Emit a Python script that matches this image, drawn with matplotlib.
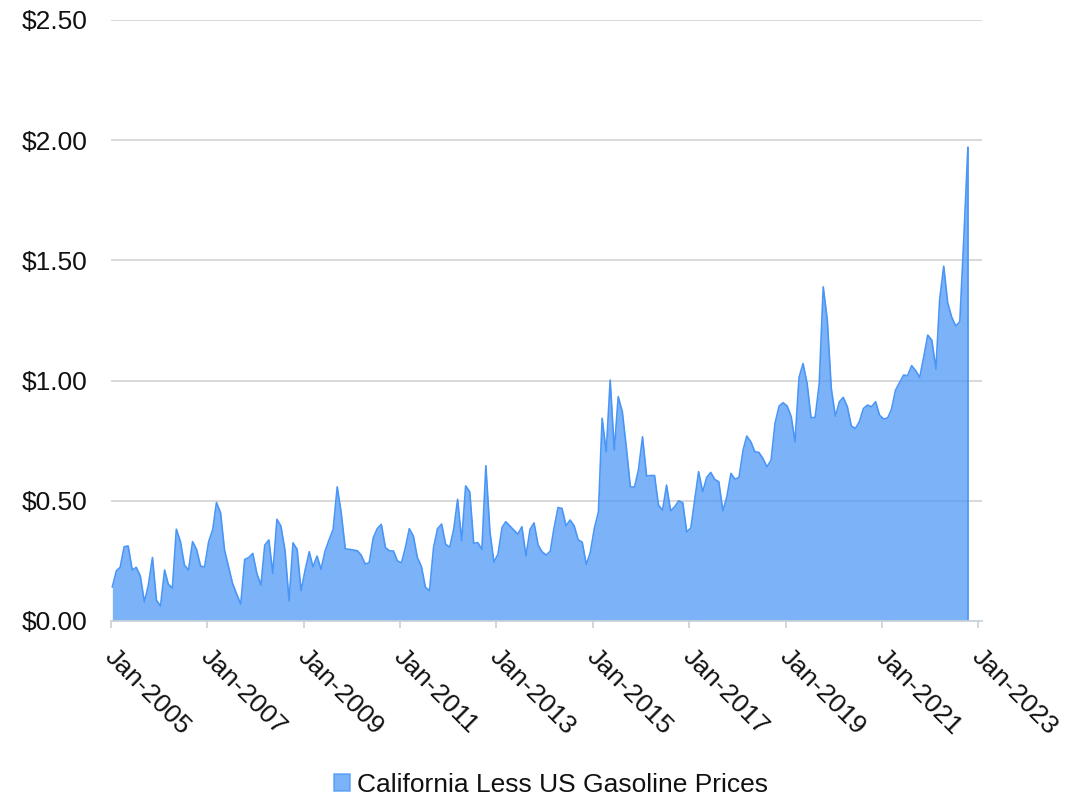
import numpy as np
import pandas as pd
import matplotlib as mpl
mpl.use("Agg")
from matplotlib import pyplot as plt
import matplotlib.dates as mdates
import matplotlib.transforms as mtransforms
from matplotlib.patches import Patch
from matplotlib.ticker import FuncFormatter

plt.rcParams["font.family"] = ["Liberation Sans", "DejaVu Sans"]

series_name = "California Less US Gasoline Prices"

# monthly price gap, $/gallon (Jan 2005 .. Oct 2022)
y2005 = [0.142, 0.209, 0.223, 0.309, 0.312, 0.212, 0.223, 0.187, 0.079, 0.149, 0.264, 0.087]
y2006 = [0.062, 0.212, 0.153, 0.137, 0.382, 0.330, 0.233, 0.212, 0.330, 0.298, 0.228, 0.225]
y2007 = [0.330, 0.381, 0.493, 0.450, 0.295, 0.225, 0.156, 0.112, 0.070, 0.256, 0.264, 0.281]
y2008 = [0.198, 0.149, 0.316, 0.337, 0.198, 0.423, 0.395, 0.295, 0.084, 0.325, 0.298, 0.126]
y2009 = [0.212, 0.288, 0.225, 0.270, 0.215, 0.291, 0.337, 0.381, 0.558, 0.450, 0.300, 0.298]
y2010 = [0.295, 0.292, 0.274, 0.237, 0.242, 0.346, 0.384, 0.402, 0.306, 0.292, 0.291, 0.250]
y2011 = [0.242, 0.309, 0.384, 0.353, 0.264, 0.226, 0.140, 0.126, 0.306, 0.384, 0.403, 0.320]
y2012 = [0.306, 0.383, 0.506, 0.334, 0.562, 0.537, 0.323, 0.326, 0.298, 0.646, 0.371, 0.245]
y2013 = [0.278, 0.389, 0.413, 0.395, 0.378, 0.361, 0.392, 0.270, 0.381, 0.408, 0.316, 0.288]
y2014 = [0.274, 0.290, 0.385, 0.472, 0.468, 0.396, 0.420, 0.396, 0.337, 0.328, 0.235, 0.284]
y2015 = [0.385, 0.454, 0.843, 0.704, 1.002, 0.711, 0.933, 0.870, 0.718, 0.558, 0.557, 0.628]
y2016 = [0.766, 0.603, 0.605, 0.605, 0.482, 0.461, 0.565, 0.458, 0.475, 0.500, 0.492, 0.370]
y2017 = [0.387, 0.510, 0.621, 0.537, 0.597, 0.618, 0.589, 0.579, 0.458, 0.517, 0.614, 0.590]
y2018 = [0.597, 0.711, 0.769, 0.745, 0.704, 0.701, 0.676, 0.641, 0.669, 0.822, 0.894, 0.908]
y2019 = [0.894, 0.849, 0.745, 1.013, 1.071, 0.988, 0.845, 0.847, 0.988, 1.390, 1.252, 0.968]
y2020 = [0.852, 0.912, 0.930, 0.891, 0.811, 0.801, 0.829, 0.884, 0.898, 0.891, 0.912, 0.856]
y2021 = [0.840, 0.845, 0.880, 0.960, 0.991, 1.023, 1.020, 1.062, 1.041, 1.013, 1.099, 1.189]
y2022 = [1.168, 1.048, 1.335, 1.476, 1.324, 1.263, 1.227, 1.245, 1.600, 1.970]

values = np.array(y2005 + y2006 + y2007 + y2008 + y2009 + y2010 + y2011 + y2012 + y2013
                  + y2014 + y2015 + y2016 + y2017 + y2018 + y2019 + y2020 + y2021 + y2022)
dates = pd.date_range("2005-01-01", periods=len(values), freq="MS") + pd.Timedelta(days=12)

tick_years = list(range(2005, 2024, 2))
y_ticks = [0, 0.5, 1.0, 1.5, 2.0, 2.5]

line_col = "#4a96f6"
grid_col = "#d6d6d6"
text_col = "#111111"
fs = 19

fig = plt.figure(figsize=(10.89, 7.99), dpi=100)
ax = fig.add_axes([0.1017, 0.2228, 0.7998, 0.7522])

ax.fill_between(dates, values, 0, color=line_col, alpha=0.72, linewidth=0, zorder=2)
ax.plot(dates, values, color=line_col, linewidth=1.2, zorder=3)
ax.vlines(dates[-1], 0, values[-1], color=line_col, linewidth=1.2, zorder=3)

ax.set_ylim(0, 2.5)
ax.set_yticks(y_ticks)
ax.yaxis.set_major_formatter(FuncFormatter(lambda v, p: "${:.2f}".format(v)))
ax.set_xlim(pd.Timestamp("2005-01-01"), pd.Timestamp("2023-01-26"))
ax.set_xticks(pd.to_datetime(["%d-01-01" % y for y in tick_years]))
ax.xaxis.set_major_formatter(mdates.DateFormatter("%b-%Y"))

ax.yaxis.grid(True, color=grid_col, linewidth=1.3)
ax.set_axisbelow(True)
for s in ["top", "right", "left"]:
    ax.spines[s].set_visible(False)
ax.spines["bottom"].set_color("#ccd3dc")
ax.spines["bottom"].set_linewidth(1.3)
ax.spines["bottom"].set_zorder(4)

ax.tick_params(axis="y", length=0, pad=17, labelsize=fs, labelcolor=text_col)
ax.tick_params(axis="x", length=5, width=1.3, color="#ccd3dc", pad=12,
               labelsize=fs, labelcolor=text_col)
shift = mtransforms.ScaledTranslation(6 / 100, 0, fig.dpi_scale_trans)
for lbl in ax.get_xticklabels():
    lbl.set_rotation(-45)
    lbl.set_ha("left")
    lbl.set_va("top")
    lbl.set_rotation_mode("anchor")
    lbl.set_transform(lbl.get_transform() + shift)

handle = Patch(facecolor=line_col, alpha=0.72, edgecolor=line_col, linewidth=1.2)
fig.legend([handle], [series_name], loc="lower center", bbox_to_anchor=(0.506, -0.027),
           frameon=False, fontsize=fs, handlelength=0.6, handleheight=0.6,
           handletextpad=0.25, labelcolor=text_col)

fig.savefig("out.png", dpi=100)
